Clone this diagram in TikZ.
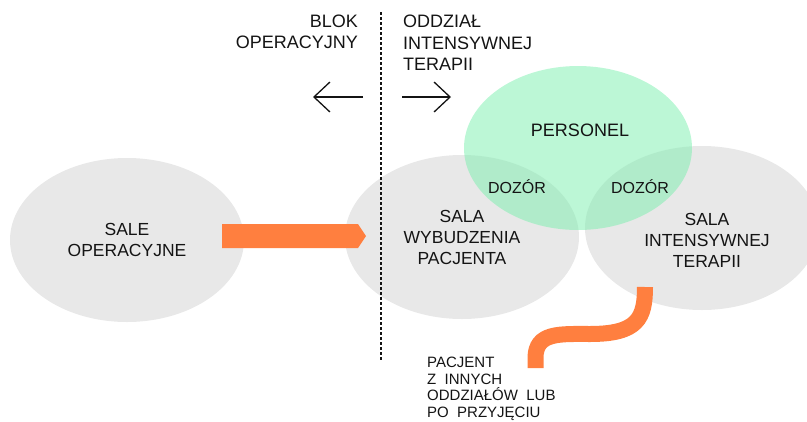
\documentclass[tikz,border=0pt]{standalone}
\usepackage{fontspec}
\setmainfont{Liberation Sans}
\usetikzlibrary{shapes.geometric,arrows.meta}
\definecolor{roomgray}{RGB}{232,232,232}
\definecolor{staffgreen}{RGB}{121,239,173}
\definecolor{flowor}{RGB}{255,127,63}
\definecolor{ink}{RGB}{20,20,20}
\begin{document}
\begin{tikzpicture}[x=1pt,y=-1pt,
  room/.style={ellipse, fill=roomgray, minimum width=234pt, minimum height=164pt, inner sep=0pt, align=center, text=ink, font=\fontsize{17.5}{21}\selectfont},
  staff/.style={ellipse, fill=staffgreen, fill opacity=0.5, text opacity=1, minimum width=228pt, minimum height=164pt, inner sep=0pt, text=ink, font=\fontsize{18}{21}\selectfont},
  lbl/.style={inner sep=0pt, text=ink, font=\fontsize{18}{21.5}\selectfont},
  small/.style={inner sep=0pt, text=ink, font=\fontsize{15}{16.5}\selectfont},
  side/.style={draw=ink, line width=1.3pt, -{Straight Barb[length=16pt,width=30pt,line width=1.3pt]}},
  flow/.style={draw=flowor, line width=16pt}]
\useasboundingbox (0,0) rectangle (807,421);
\clip (0,0) rectangle (807,421);
\node[room] (sale) at (127,240) {SALE\\OPERACYJNE};
\node[room] (wybudz) at (462,237) {SALA\\WYBUDZENIA\\PACJENTA};
\node[room] (oit) at (702,228) {};
\node[staff] (personel) at (578,148) {};
\node[room, fill=none, minimum width=0pt, minimum height=0pt] (oittxt) at (707,240) {SALA\\INTENSYWNEJ\\TERAPII};
\node[small, font=\fontsize{18}{21}\selectfont] (perstxt) at (580,130) {PERSONEL};
\node[small, font=\fontsize{16}{17}\selectfont] (dozor1) at (517,187) {DOZÓR};
\node[small, font=\fontsize{16}{17}\selectfont] (dozor2) at (640,187) {DOZÓR};
\node[lbl, align=right, anchor=east] (blok) at (358,32) {BLOK\\OPERACYJNY};
\node[lbl, align=left, anchor=west] (oddz) at (403,43) {ODDZIAŁ\\INTENSYWNEJ\\TERAPII};
\node[small, align=left, anchor=north west] (pacjent) at (427,357) {PACJENT\\Z \ INNYCH\\ODDZIAŁÓW \ LUB\\PO \ PRZYJĘCIU};
\coordinate (divtop) at (381,12);
\coordinate (divbot) at (381,360);
\draw[ink, line width=1.6pt, dash pattern=on 3pt off 2pt] (divtop) -- (divbot);
\coordinate (left0) at (363,97);
\coordinate (left1) at (313,97);
\coordinate (right0) at (402,97);
\coordinate (right1) at (451,97);
\draw[side] (left0) -- (left1);
\draw[side] (right0) -- (right1);
\coordinate (out) at (222,236);
\fill[flowor] (out) ++(0,-12) -- ++(136,0) -- ++(8,12) -- ++(-8,12) -- ++(-136,0) -- cycle;
\coordinate (pin) at (535.5,368);
\coordinate (pout) at (645,287);
\draw[flow] (pin) -- ++(0,-10) .. controls (535.5,332) and (560,334) .. (590,334) .. controls (638,334) and (645,318) .. (pout);
\end{tikzpicture}
\end{document}
